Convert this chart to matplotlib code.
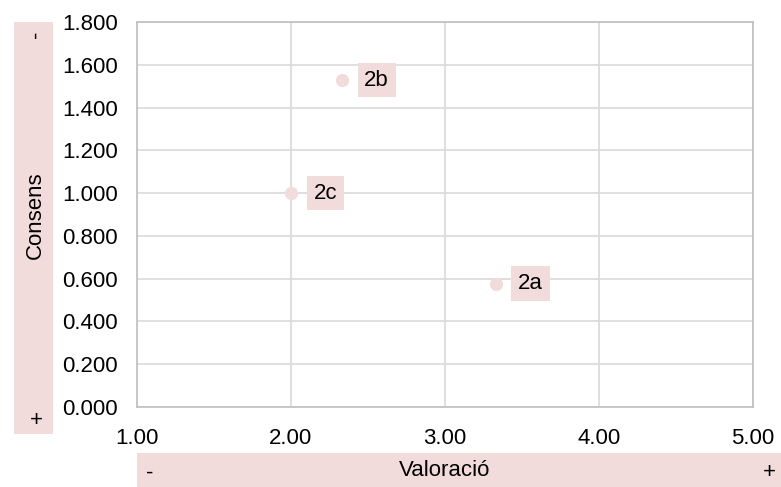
import matplotlib
matplotlib.use("Agg")
import matplotlib.pyplot as plt
from matplotlib.patches import Rectangle

labels = ["2a", "2b", "2c"]
valoracio = [3.33, 2.33, 2.00]
consens = [0.577, 1.528, 1.000]
xticks = [1.0, 2.0, 3.0, 4.0, 5.0]
yticks = [0.0, 0.2, 0.4, 0.6, 0.8, 1.0, 1.2, 1.4, 1.6, 1.8]

pink = "#F2DCDB"
W, H = 781, 487
FS = 16
plt.rcParams['font.family'] = ['Liberation Sans', 'DejaVu Sans']
fig = plt.figure(figsize=(W/100, H/100), dpi=100)
ax = fig.add_axes([137/W, 1-407/H, (753-137)/W, (407-22)/H])

ax.scatter(valoracio, consens, s=90, color=pink, zorder=3, linewidths=0)
for lab, x, y in zip(labels, valoracio, consens):
    ax.annotate(lab, (x, y), xytext=(25, 0), textcoords="offset points",
                ha="center", va="center", fontsize=FS,
                bbox=dict(boxstyle="square,pad=0.3", fc=pink, ec="none"))

ax.set_xlim(1, 5)
ax.set_ylim(0, 1.8)
ax.set_xticks(xticks)
ax.set_yticks(yticks)
ax.set_xticklabels([f"{v:.2f}" for v in xticks])
ax.set_yticklabels([f"{v:.3f}" for v in yticks])
ax.tick_params(length=0, labelsize=FS, colors="black")
ax.tick_params(axis="y", pad=14)
ax.tick_params(axis="x", pad=15)
ax.grid(True, color="#d9d9d9", linewidth=1.2)
ax.set_axisbelow(True)
for s in ax.spines.values():
    s.set_color("#bfbfbf")
    s.set_linewidth(1.2)

# Y axis label box
fig.add_artist(Rectangle((14/W, 1-434/H), 39/W, (434-22)/H, transform=fig.transFigure,
                         fc=pink, ec="none", zorder=0))
fig.text(35/W, 1-215/H, "Consens", rotation=90, ha="center", va="center", fontsize=FS)
fig.text(36/W, 1-34/H, "-", rotation=90, ha="center", va="center", fontsize=FS)
fig.text(36/W, 1-420/H, "+", ha="center", va="center", fontsize=FS)

# X axis label box
fig.add_artist(Rectangle((137/W, 0), (781-137)/W, (487-453)/H, transform=fig.transFigure,
                         fc=pink, ec="none", zorder=0))
fig.text(445/W, 1-471/H, "Valoració", ha="center", va="center", fontsize=FS)
fig.text(150/W, 1-473/H, "-", ha="center", va="center", fontsize=FS)
fig.text(769/W, 1-472/H, "+", ha="center", va="center", fontsize=FS)

fig.savefig("out.png", dpi=100)
